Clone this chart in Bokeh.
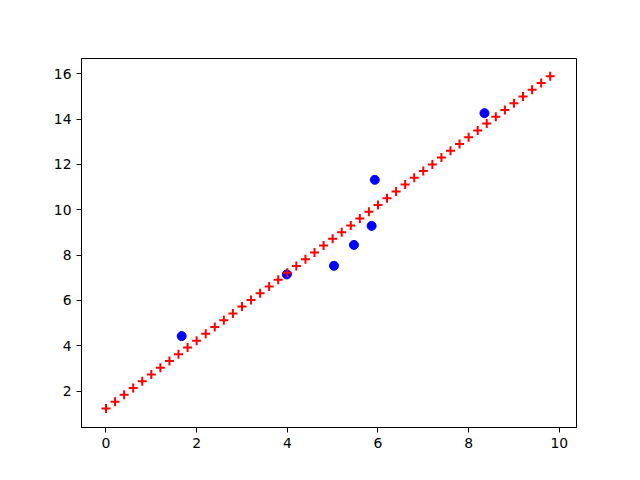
from bokeh.plotting import figure
from bokeh.models import FixedTicker, Range1d
from bokeh.embed import file_html
from bokeh.resources import INLINE

# Observed data points (blue)
obs_x = [1.67, 3.99, 5.03, 5.47, 5.86, 5.93, 8.35]
obs_y = [4.43, 7.15, 7.53, 8.45, 9.29, 11.32, 14.26]

# Fitted line points (red +)
fit_x = [0.0, 0.2, 0.4, 0.6, 0.8, 1.0, 1.2, 1.4, 1.6, 1.8,
         2.0, 2.2, 2.4, 2.6, 2.8, 3.0, 3.2, 3.4, 3.6, 3.8,
         4.0, 4.2, 4.4, 4.6, 4.8, 5.0, 5.2, 5.4, 5.6, 5.8,
         6.0, 6.2, 6.4, 6.6, 6.8, 7.0, 7.2, 7.4, 7.6, 7.8,
         8.0, 8.2, 8.4, 8.6, 8.8, 9.0, 9.2, 9.4, 9.6, 9.8]
fit_y = [1.24, 1.54, 1.84, 2.14, 2.44, 2.74, 3.03, 3.33, 3.63, 3.93,
         4.23, 4.53, 4.83, 5.13, 5.43, 5.73, 6.02, 6.32, 6.62, 6.92,
         7.22, 7.52, 7.82, 8.12, 8.42, 8.72, 9.01, 9.31, 9.61, 9.91,
         10.21, 10.51, 10.81, 11.11, 11.41, 11.71, 12.00, 12.30, 12.60, 12.90,
         13.20, 13.50, 13.80, 14.10, 14.40, 14.70, 14.99, 15.29, 15.59, 15.89]

x_ticks = [0, 2, 4, 6, 8, 10]
y_ticks = [2, 4, 6, 8, 10, 12, 14, 16]

p = figure(width=624, height=464, output_backend="svg", toolbar_location=None,
           x_range=Range1d(-0.54, 10.38), y_range=Range1d(0.40, 16.67),
           min_border_left=81, min_border_right=48, min_border_top=58, min_border_bottom=37)

p.scatter(obs_x, obs_y, marker="circle", size=9, color="blue")
p.scatter(fit_x, fit_y, marker="cross", size=9, line_color="red", line_width=2)

p.xgrid.visible = False
p.ygrid.visible = False
p.outline_line_color = "black"
p.outline_line_width = 1
p.outline_line_alpha = 1

for ax, ticks in ((p.xaxis, x_ticks), (p.yaxis, y_ticks)):
    ax.ticker = FixedTicker(ticks=ticks)
    ax.minor_tick_line_color = None
    ax.major_tick_in = 0
    ax.major_tick_out = 5
    ax.major_tick_line_color = "black"
    ax.axis_line_color = "black"
    ax.major_label_text_font = "DejaVu Sans"
    ax.major_label_text_font_size = "13.9px"
    ax.major_label_text_color = "black"
    ax.major_label_standoff = 5

open("out.html", "w").write(file_html(p, INLINE))
